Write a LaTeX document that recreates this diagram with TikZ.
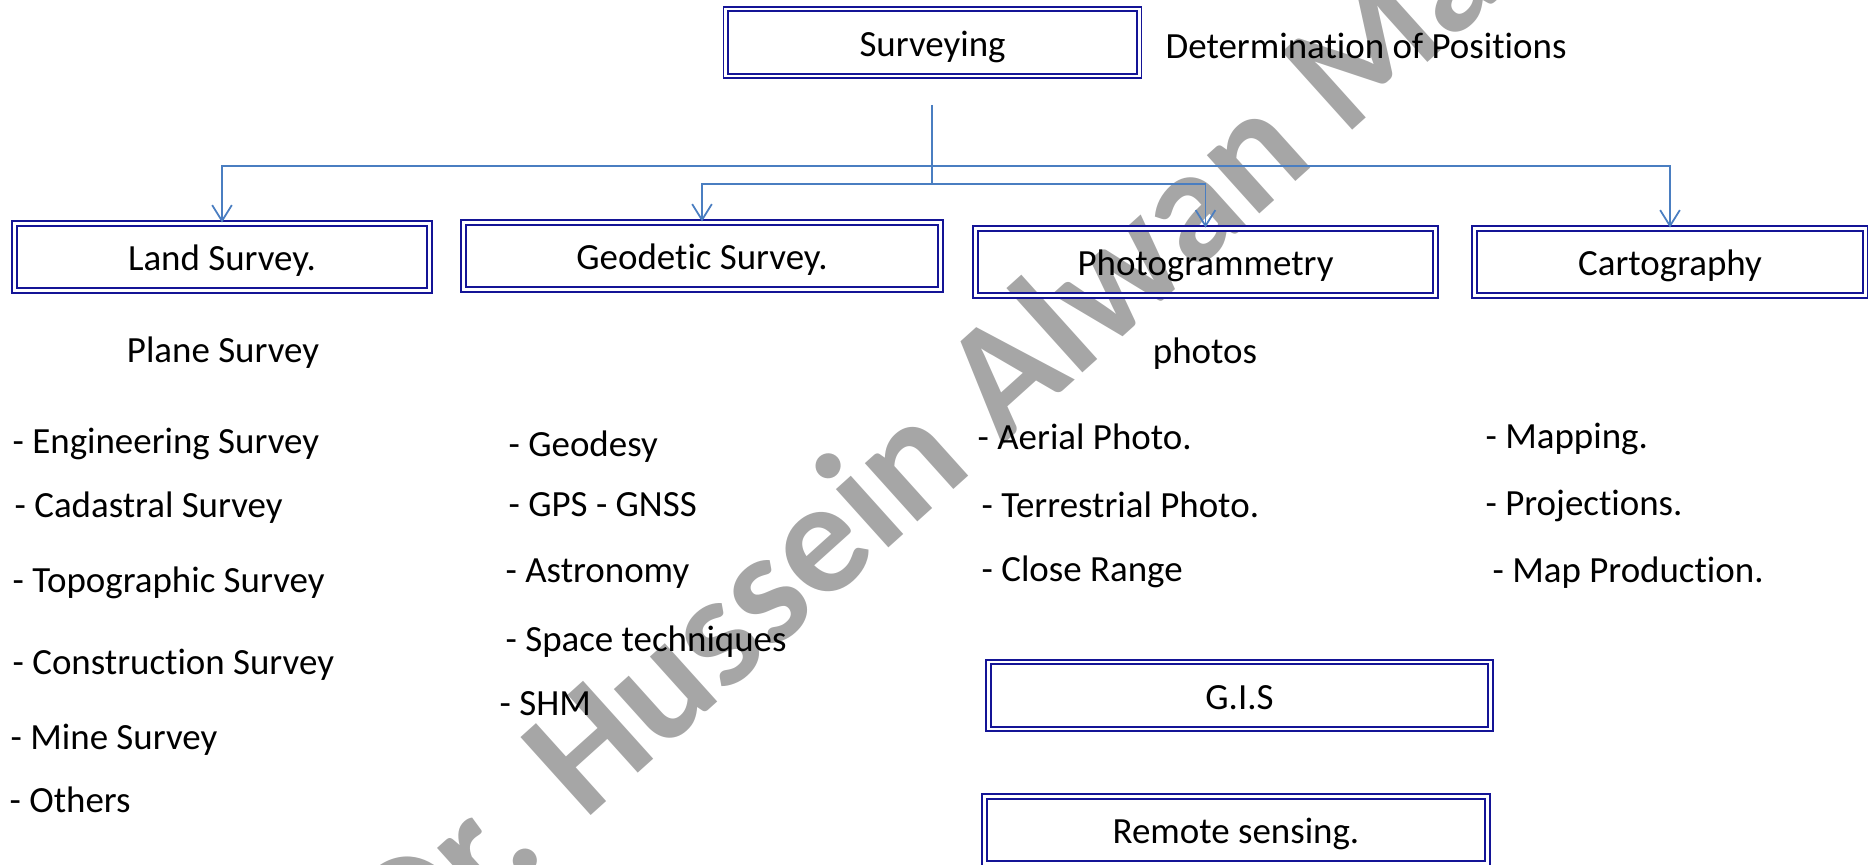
\documentclass[tikz,border=0pt]{standalone}
\usepackage{fontspec}
\setmainfont{Carlito}[Ligatures=NoCommon]
\usetikzlibrary{
    arrows.meta,
}
\definecolor{boxblue}{RGB}{20,20,150}
\definecolor{lineblue}{RGB}{74,126,193}
\definecolor{markgray}{RGB}{166,166,166}
\newcommand{\boxheight}{0.67cm}
\newcommand{\textsize}{\fontsize{10.5}{12.5}\selectfont}
\newcommand{\marksize}{\fontsize{46}{50}\selectfont\bfseries}
\tikzstyle{treeline} = [lineblue, line width=0.5pt]
\tikzstyle{treearrow} = [treeline, -{Straight Barb[length=4.5pt,width=5.6pt]}]
\tikzstyle{treebox} = [
  draw=boxblue,
  double=white,
  double distance=0.8pt,
  line width=0.5pt,
  shape=rectangle,
  minimum height=\boxheight,
  text height=7.8pt,
  text depth=0pt,
  inner sep=0pt,
  font=\textsize,
]
\tikzstyle{leaftext} = [
  anchor=base west,
  inner sep=0pt,
  font=\textsize,
]
\tikzstyle{notetext} = [
  anchor=base,
  inner sep=0pt,
  font=\textsize,
]
\tikzstyle{watermark} = [
  text=markgray,
  rotate=42,
  inner sep=0pt,
  font=\marksize,
]

\begin{document}
\begin{tikzpicture}[x=0.01cm, y=-0.01cm]
    \path[use as bounding box, clip] (0,0) rectangle (1868,865);
    \node[watermark] (mark) at (1000,372) {Dr. Hussein Alwan Mahdi};

    \node[treebox, minimum width=4.13cm] (surveying) at (932.5,42.5) {Surveying};
    \node[leaftext] (positions) at (1165,59) {Determination of Positions};

    \node[treebox, minimum width=4.15cm] (land) at (222,257) {Land Survey.};
    \node[treebox, minimum width=4.77cm] (geodetic) at (702,256) {Geodetic Survey.};
    \node[treebox, minimum width=4.60cm] (photo) at (1205.5,262) {Photogrammetry};
    \node[treebox, minimum width=3.91cm] (carto) at (1670,262) {Cartography};
    \node[treebox, minimum width=5.02cm] (gis) at (1239.5,695.5) {G.I.S};
    \node[treebox, minimum width=5.03cm] (remote) at (1236,830) {Remote sensing.};

    % branches
    \coordinate (trunk) at (932,105);
    \coordinate (upper) at (932,166);
    \coordinate (lower) at (932,184);
    \draw[treeline] (trunk) -- (lower);
    \draw[treearrow] (upper) -| (land.north);
    \draw[treearrow] (upper) -| (carto.north);
    \draw[treearrow] (lower) -| (geodetic.north);
    \draw[treearrow] (lower) -| (photo.north);

    \node[notetext] (plane) at (223,363) {Plane Survey};
    \node[notetext] (photos) at (1205,364) {photos};

    \node[leaftext] (engineering) at (12,454) {- Engineering Survey};
    \node[leaftext] (cadastral) at (14,518) {- Cadastral Survey};
    \node[leaftext] (topographic) at (12,593) {- Topographic Survey};
    \node[leaftext] (construction) at (12,675) {- Construction Survey};
    \node[leaftext] (mine) at (10,750) {- Mine Survey};
    \node[leaftext] (others) at (9,813) {- Others};

    \node[leaftext] (geodesy) at (508,457) {- Geodesy};
    \node[leaftext] (gnss) at (508,517) {- GPS - GNSS};
    \node[leaftext] (astronomy) at (505,583) {- Astronomy};
    \node[leaftext] (space) at (505,652) {- Space techniques};
    \node[leaftext] (shm) at (499,716) {- SHM};

    \node[leaftext] (aerial) at (977,450) {- Aerial Photo.};
    \node[leaftext] (terrestrial) at (981,518) {- Terrestrial Photo.};
    \node[leaftext] (closerange) at (981,582) {- Close Range};

    \node[leaftext] (mapping) at (1485,449) {- Mapping.};
    \node[leaftext] (projections) at (1485,516) {- Projections.};
    \node[leaftext] (production) at (1492,583) {- Map Production.};
\end{tikzpicture}
\end{document}
